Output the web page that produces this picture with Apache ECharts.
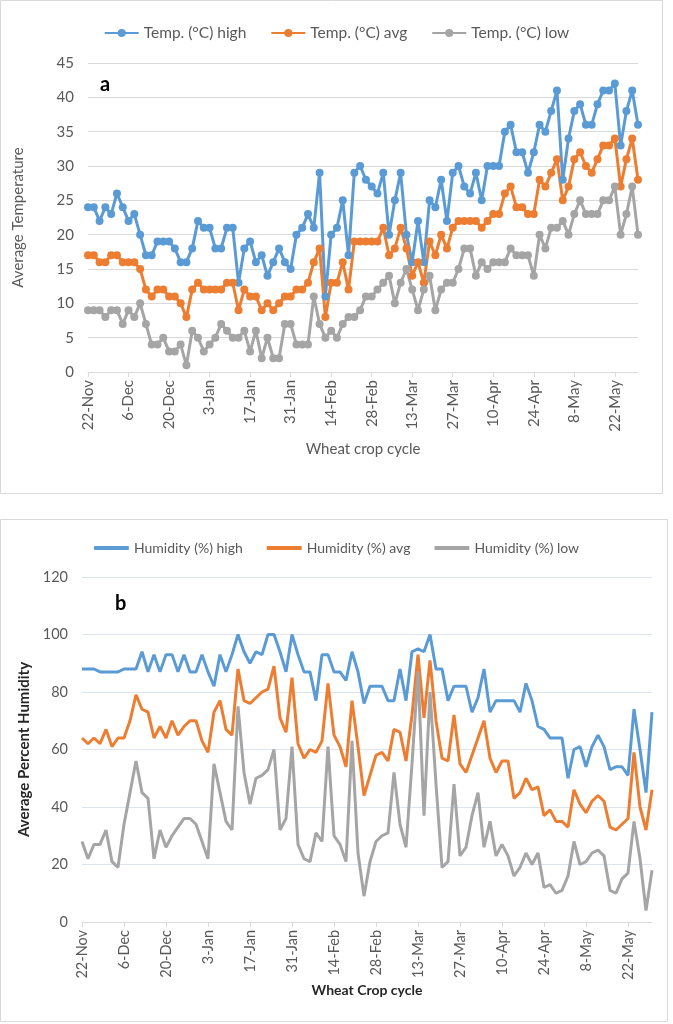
<!DOCTYPE html>
<html>
<head>
<meta charset="utf-8">
<script src="https://cdn.jsdelivr.net/npm/echarts@6/dist/echarts.min.js"></script>
<style>
html,body{margin:0;padding:0;background:#fff;}
#c{width:673px;height:1024px;}
</style>
</head>
<body>
<div id="c"></div>
<script>
const categories = [
"22-Nov","24-Nov","26-Nov","28-Nov","30-Nov",
"2-Dec","4-Dec","6-Dec","8-Dec","10-Dec","12-Dec","14-Dec","16-Dec","18-Dec","20-Dec","22-Dec","24-Dec","26-Dec","28-Dec","30-Dec",
"1-Jan","3-Jan","5-Jan","7-Jan","9-Jan","11-Jan","13-Jan","15-Jan","17-Jan","19-Jan","21-Jan","23-Jan","25-Jan","27-Jan","29-Jan","31-Jan",
"2-Feb","4-Feb","6-Feb","8-Feb","10-Feb","12-Feb","14-Feb","16-Feb","18-Feb","20-Feb","22-Feb","24-Feb","26-Feb","28-Feb",
"1-Mar","3-Mar","5-Mar","7-Mar","9-Mar","11-Mar","13-Mar","15-Mar","17-Mar","19-Mar","21-Mar","23-Mar","25-Mar","27-Mar","29-Mar","31-Mar",
"2-Apr","4-Apr","6-Apr","8-Apr","10-Apr","12-Apr","14-Apr","16-Apr","18-Apr","20-Apr","22-Apr","24-Apr","26-Apr","28-Apr","30-Apr",
"2-May","4-May","6-May","8-May","10-May","12-May","14-May","16-May","18-May","20-May","22-May","24-May","26-May","28-May","30-May"
];

const tempHigh = [24,24,22,24,23,26,24,22,23,20,17,17,19,19,19,18,16,16,18,22,21,21,18,18,21,21,13,18,19,16,
17,14,16,18,16,15,20,21,23,21,29,11,20,21,25,17,29,30,28,27,26,29,20,25,29,20,16,22,16,25,
24,28,22,29,30,27,26,29,25,30,30,30,35,36,32,32,29,32,36,35,38,41,28,34,38,39,36,36,39,41,
41,42,33,38,41,36];
const tempAvg = [17,17,16,16,17,17,16,16,16,15,12,11,12,12,11,11,10,8,12,13,12,12,12,12,13,13,9,12,11,11,
9,10,9,10,11,11,12,12,13,16,18,8,13,13,16,12,19,19,19,19,19,21,17,18,21,18,14,16,13,19,
17,20,18,21,22,22,22,22,21,22,23,23,26,27,24,24,23,23,28,27,29,31,25,27,31,32,30,29,31,33,
33,34,27,31,34,28];
const tempLow = [9,9,9,8,9,9,7,9,8,10,7,4,4,5,3,3,4,1,6,5,3,4,5,7,6,5,5,6,3,6,
2,5,2,2,7,7,4,4,4,11,7,5,6,5,7,8,8,9,11,11,12,13,14,10,13,15,12,9,12,14,
9,12,13,13,15,18,18,14,16,15,16,16,16,18,17,17,17,14,20,18,21,21,22,20,23,25,23,23,23,25,
25,27,20,23,27,20];

const humHigh = [88,88,88,87,87,87,87,88,88,88,94,87,93,87,93,93,87,93,87,87,93,87,82,93,87,93,100,94,90,94,
93,100,100,94,87,100,93,87,87,77,93,93,87,87,84,94,87,76,82,82,82,77,77,88,77,94,95,94,100,88,
88,77,82,82,82,73,78,88,73,77,77,77,77,73,83,77,68,67,64,64,64,50,60,61,54,61,65,61,53,54,
54,51,74,60,45,73];
const humAvg = [64,62,64,62,67,61,64,64,70,79,74,73,64,68,64,70,65,68,70,70,63,59,73,77,67,65,88,77,76,78,
80,81,89,71,66,85,62,57,60,59,63,83,65,61,54,77,61,44,51,58,59,56,67,66,56,72,93,71,91,70,
57,56,72,55,52,58,64,70,57,52,56,56,43,45,50,46,47,37,39,35,35,33,46,41,38,42,44,42,33,32,
34,36,59,40,32,46];
const humLow = [28,22,27,27,32,21,19,34,45,56,45,43,22,32,26,30,33,36,36,34,28,22,55,45,35,32,75,52,41,50,
51,53,60,32,36,61,27,22,21,31,28,61,30,27,21,63,24,9,21,28,30,31,52,34,26,55,87,37,80,48,
19,21,48,23,26,37,45,26,35,23,27,23,16,19,24,20,24,12,13,10,11,16,28,20,21,24,25,23,11,10,
15,17,35,22,4,18];

const tempNames = ["Temp. (°C) high","Temp. (°C) avg","Temp. (°C) low"];
const humNames = ["Humidity (%) high","Humidity (%) avg","Humidity (%) low"];
const colors = ["#5B9BD5","#ED7D31","#A5A5A5"];

const FONT = "Lato";
const TXT = "#595959";

const chart = echarts.init(document.getElementById('c'), null, {renderer:'canvas'});

function xAxisCfg(gridIndex, name, bold){
  return {
    type:'category', gridIndex, data:categories, boundaryGap:false,
    axisLine:{lineStyle:{color:'#d9d9d9', width:1}},
    axisTick:{show:true, interval:6, length:5, lineStyle:{color:'#d9d9d9'}},
    axisLabel:{interval:6, rotate:90, margin:8, color:TXT, fontFamily:FONT, fontSize: bold ? 14.5 : 15},
    splitLine:{show:false},
    name, nameLocation:'middle', nameGap: bold ? 61 : 70,
    nameTextStyle:{color: bold ? '#262626' : TXT, fontFamily:FONT, fontSize: bold ? 14 : 15, fontWeight: bold ? 'bold' : 'normal'}
  };
}

const option = {
  animation:false,
  textStyle:{fontFamily:FONT},
  graphic:[
    {type:'rect', shape:{x:0.5,y:0.5,width:662,height:493}, style:{fill:'none', stroke:'#d9d9d9', lineWidth:1}},
    {type:'rect', shape:{x:0.5,y:519.5,width:667,height:502}, style:{fill:'none', stroke:'#d9d9d9', lineWidth:1}},
    {type:'text', left:100, top:75, style:{text:'a', fontFamily:FONT, fontSize:20, fontWeight:'bold', fill:'#000'}},
    {type:'text', left:115, top:594, style:{text:'b', fontFamily:FONT, fontSize:20, fontWeight:'bold', fill:'#000'}}
  ],
  legend:[
    {data:tempNames, top:20, left:'center', itemWidth:34, itemHeight:10, itemGap:24,
     textStyle:{color:TXT, fontFamily:FONT, fontSize:15.5}},
    {data:humNames, top:536, left:'center', itemWidth:35, itemHeight:4, itemGap:24, icon:'roundRect',
     textStyle:{color:TXT, fontFamily:FONT, fontSize:14}}
  ],
  grid:[
    {left:88, right:35, top:63, height:309, containLabel:false},
    {left:82, right:21, top:577, height:345, containLabel:false}
  ],
  xAxis:[ xAxisCfg(0,'Wheat crop cycle',false), xAxisCfg(1,'Wheat Crop cycle',true) ],
  yAxis:[
    {type:'value', gridIndex:0, min:0, max:45, interval:5,
     axisLine:{show:false}, axisTick:{show:false},
     axisLabel:{color:TXT, fontFamily:FONT, fontSize:15, margin:14},
     splitLine:{lineStyle:{color:'#d9d9d9', width:1}},
     name:'Average Temperature', nameLocation:'middle', nameGap:62,
     nameTextStyle:{color:TXT, fontFamily:FONT, fontSize:15}},
    {type:'value', gridIndex:1, min:0, max:120, interval:20,
     axisLine:{show:false}, axisTick:{show:false},
     axisLabel:{color:TXT, fontFamily:FONT, fontSize:14.5, margin:14},
     splitLine:{lineStyle:{color:'#dde4ee', width:1}},
     name:'Average Percent Humidity', nameLocation:'middle', nameGap:42,
     nameTextStyle:{color:'#262626', fontFamily:FONT, fontSize:15, fontWeight:'bold'}}
  ],
  series:[
    {name:tempNames[0], type:'line', xAxisIndex:0, yAxisIndex:0, data:tempHigh, symbol:'circle', symbolSize:8, showAllSymbol:true,
     itemStyle:{color:colors[0]}, lineStyle:{color:colors[0], width:3}},
    {name:tempNames[1], type:'line', xAxisIndex:0, yAxisIndex:0, data:tempAvg, symbol:'circle', symbolSize:8, showAllSymbol:true,
     itemStyle:{color:colors[1]}, lineStyle:{color:colors[1], width:3}},
    {name:tempNames[2], type:'line', xAxisIndex:0, yAxisIndex:0, data:tempLow, symbol:'circle', symbolSize:8, showAllSymbol:true,
     itemStyle:{color:colors[2]}, lineStyle:{color:colors[2], width:3}},
    {name:humNames[0], type:'line', xAxisIndex:1, yAxisIndex:1, data:humHigh, symbol:'none',
     itemStyle:{color:colors[0]}, lineStyle:{color:colors[0], width:3}},
    {name:humNames[1], type:'line', xAxisIndex:1, yAxisIndex:1, data:humAvg, symbol:'none',
     itemStyle:{color:colors[1]}, lineStyle:{color:colors[1], width:3}},
    {name:humNames[2], type:'line', xAxisIndex:1, yAxisIndex:1, data:humLow, symbol:'none',
     itemStyle:{color:colors[2]}, lineStyle:{color:colors[2], width:3}}
  ]
};
chart.setOption(option);
</script>
</body>
</html>
